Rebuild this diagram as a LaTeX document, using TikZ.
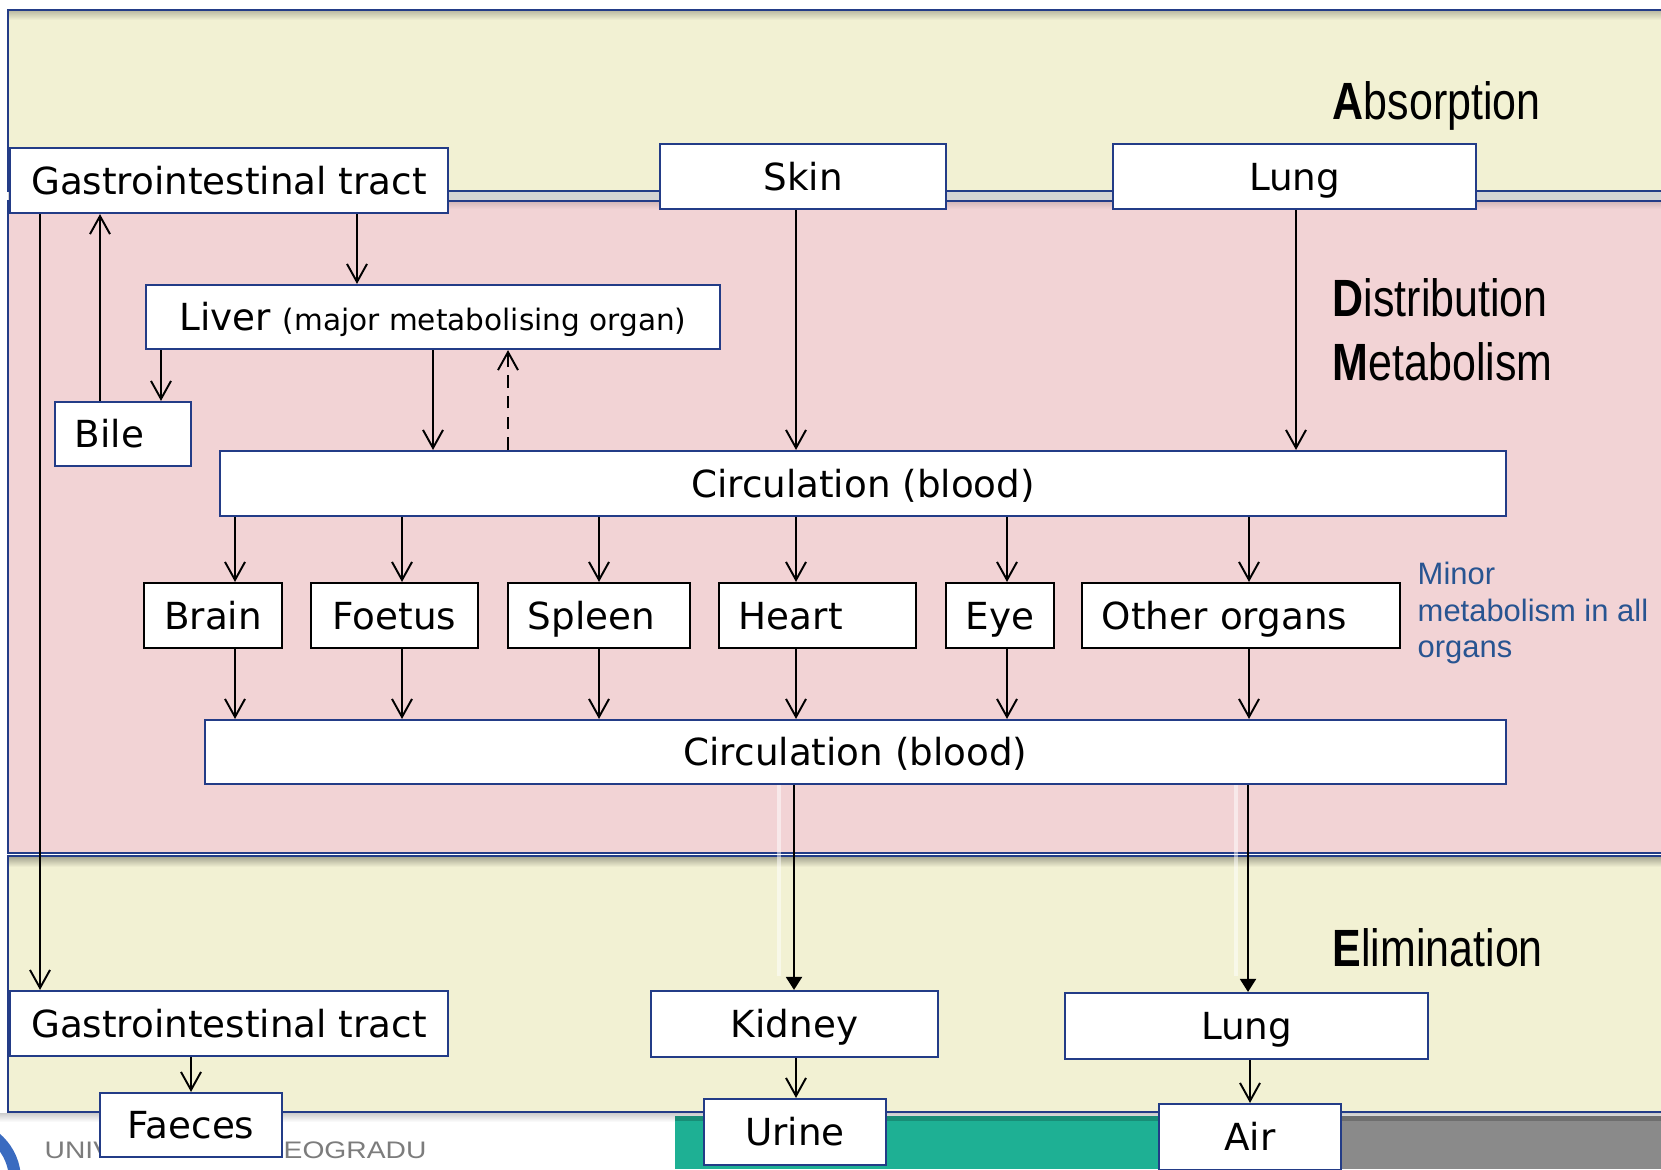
\documentclass[tikz,border=0pt]{standalone}
\usepackage{fontspec}
\setmainfont{DejaVu Sans}
\newfontfamily\headfont[FakeStretch=0.82]{Liberation Sans}
\newfontfamily\notefont{Liberation Sans}
\newfontfamily\footfont[FakeStretch=1.18]{Liberation Sans}
\usetikzlibrary{arrows.meta}

\definecolor{bandyellow}{RGB}{242,241,211}
\definecolor{bandpink}{RGB}{242,211,213}
\definecolor{navy}{RGB}{35,60,135}
\definecolor{notetext}{RGB}{40,84,145}
\definecolor{footteal}{RGB}{30,176,148}
\definecolor{footgrey}{RGB}{138,138,138}
\definecolor{logoblue}{RGB}{58,107,192}

\begin{document}
\begin{tikzpicture}[x=0.01cm, y=-0.01cm,
  box/.style={draw=navy, fill=white, line width=0.6pt, inner sep=0pt,
    font=\fontsize{10.6}{12.7}\selectfont, text height=7.7pt, text depth=0pt},
  organ/.style={box, draw=black},
  padded/.style={align=left, inner xsep=0.2cm, text width=#1},
  arr/.style={line width=0.55pt, -{Straight Barb[length=1.8mm,width=2mm]}},
  farr/.style={line width=0.55pt, -{Triangle[length=1.3mm,width=1.6mm]}},
  head/.style={anchor=base west, inner sep=0pt, font=\headfont\fontsize{14.9}{17}\selectfont},
  foot/.style={anchor=base west, inner sep=0pt, text=footgrey!90!black,
    font=\footfont\fontsize{6.8}{8}\selectfont},
  band/.style={draw=navy, line width=0.5pt}]

\useasboundingbox (0,0) rectangle (1661,1169);
\fill[white] (0,0) rectangle (1661,1169);

% Bands
\fill[black!17] (8,191) rectangle (1680,201);
\draw[band, fill=bandyellow] (8,10) rectangle (1680,191);
\shade[top color=black!22!bandyellow, bottom color=bandyellow] (9,11) rectangle (1680,20);
\draw[band, fill=bandpink] (8,201) rectangle (1680,853);
\shade[top color=black!12!bandpink, bottom color=bandpink] (9,202) rectangle (1680,209);
\draw[band, fill=bandyellow] (8,856) rectangle (1680,1112);
\shade[top color=black!30!bandyellow, bottom color=bandyellow] (9,857) rectangle (1680,867);

% Footer
\shade[top color=black!20, bottom color=white] (0,1113) rectangle (1680,1122);
\fill[footteal] (675,1116) rectangle (1200,1169);
\fill[footteal!80!black] (675,1116) rectangle (1200,1121);
\fill[footgrey] (1200,1116) rectangle (1680,1169);
\fill[footgrey!80!black] (1200,1116) rectangle (1680,1121);
\draw[logoblue, line width=0.12cm] (-40,1180) circle (0.55cm);
\node[foot] (univ) at (44,1158) {UNIV};
\node[foot] (beograd) at (283,1158) {EOGRADU};

% Headings
\node[head] (absorp) at (1332,119) {\textbf{A}bsorption};
\node[head] (distrib) at (1332,316) {\textbf{D}istribution};
\node[head] (metab) at (1332,380) {\textbf{M}etabolism};
\node[head] (elim) at (1332,966) {\textbf{E}limination};
\node[anchor=north west, inner sep=0pt, align=left, text=notetext,
  font=\notefont\fontsize{8.8}{10.5}\selectfont] (minor) at (1417,561)
  {Minor\\metabolism in all\\organs};

% Absorption
\node[box, minimum width=4.38cm, minimum height=0.65cm] (gitop) at (229,180.5) {Gastrointestinal tract};
\node[box, minimum width=2.86cm, minimum height=0.65cm] (skin) at (803,176.5) {Skin};
\node[box, minimum width=3.63cm, minimum height=0.65cm] (lungin) at (1294.5,176.5) {Lung};

% Distribution / metabolism
\node[box, minimum width=5.74cm, minimum height=0.64cm] (liver) at (433,317)
  {Liver {\fontsize{8.4}{10}\selectfont(major metabolising organ)}};
\node[box, padded=0.96cm, minimum width=1.36cm, minimum height=0.64cm] (bile) at (123,434) {Bile};
\node[box, minimum width=12.86cm, minimum height=0.65cm] (circa) at (863,483.5) {Circulation (blood)};

\node[organ, minimum width=1.38cm, minimum height=0.65cm] (brain) at (213,615.5) {Brain};
\node[organ, minimum width=1.67cm, minimum height=0.65cm] (foetus) at (394.5,615.5) {Foetus};
\node[organ, padded=1.42cm, minimum width=1.82cm, minimum height=0.65cm] (spleen) at (599,615.5) {Spleen};
\node[organ, padded=1.57cm, minimum width=1.97cm, minimum height=0.65cm] (heart) at (817.5,615.5) {Heart};
\node[organ, minimum width=1.08cm, minimum height=0.65cm] (eye) at (1000,615.5) {Eye};
\node[organ, padded=2.78cm, minimum width=3.18cm, minimum height=0.65cm] (other) at (1241,615.5) {Other organs};

\node[box, minimum width=13.01cm, minimum height=0.64cm] (circb) at (855.5,752) {Circulation (blood)};

% Elimination
\node[box, minimum width=4.38cm, minimum height=0.65cm] (gibot) at (229,1023.5) {Gastrointestinal tract};
\node[box, minimum width=2.87cm, minimum height=0.66cm] (kidney) at (794.5,1024) {Kidney};
\node[box, minimum width=3.63cm, minimum height=0.66cm] (lungout) at (1246.5,1026) {Lung};
\node[box, minimum width=1.82cm, minimum height=0.64cm] (faeces) at (191,1125) {Faeces};
\node[box, minimum width=1.82cm, minimum height=0.66cm] (urine) at (795,1132) {Urine};
\node[box, minimum width=1.82cm, minimum height=0.66cm] (air) at (1250,1137) {Air};

% Arrows
\draw[arr] (gitop.south -| 40,0) -- (gibot.north -| 40,0);
\draw[arr] (bile.north -| 100,0) -- (gitop.south -| 100,0);
\draw[arr] (gitop.south -| 357,0) -- (liver.north -| 357,0);
\draw[arr] (liver.south -| 161,0) -- (bile.north -| 161,0);
\draw[arr] (liver.south -| 433,0) -- (circa.north -| 433,0);
\draw[arr, dash pattern=on 3.6pt off 2.3pt] (circa.north -| 508,0) -- (liver.south -| 508,0);
\draw[arr] (skin.south -| 796,0) -- (circa.north -| 796,0);
\draw[arr] (lungin.south -| 1296,0) -- (circa.north -| 1296,0);

\foreach \o/\x in {brain/235, foetus/402, spleen/599, heart/796, eye/1007, other/1249}{
  \draw[arr] (circa.south -| \x,0) -- (\o.north -| \x,0);
  \draw[arr] (\o.south -| \x,0) -- (circb.north -| \x,0);
}

\draw[white, opacity=0.5, line width=1.2pt, shorten >=0.14cm] (circb.south -| 779,0) -- (kidney.north -| 779,0);
\draw[white, opacity=0.5, line width=1.2pt, shorten >=0.16cm] (circb.south -| 1236,0) -- (lungout.north -| 1236,0);
\draw[farr] (circb.south -| 794,0) -- (kidney.north -| 794,0);
\draw[farr] (circb.south -| 1248,0) -- (lungout.north -| 1248,0);

\draw[arr] (gibot.south -| 191,0) -- (faeces.north -| 191,0);
\draw[arr] (kidney.south -| 796,0) -- (urine.north -| 796,0);
\draw[arr] (lungout.south -| 1250,0) -- (air.north -| 1250,0);

\end{tikzpicture}
\end{document}
